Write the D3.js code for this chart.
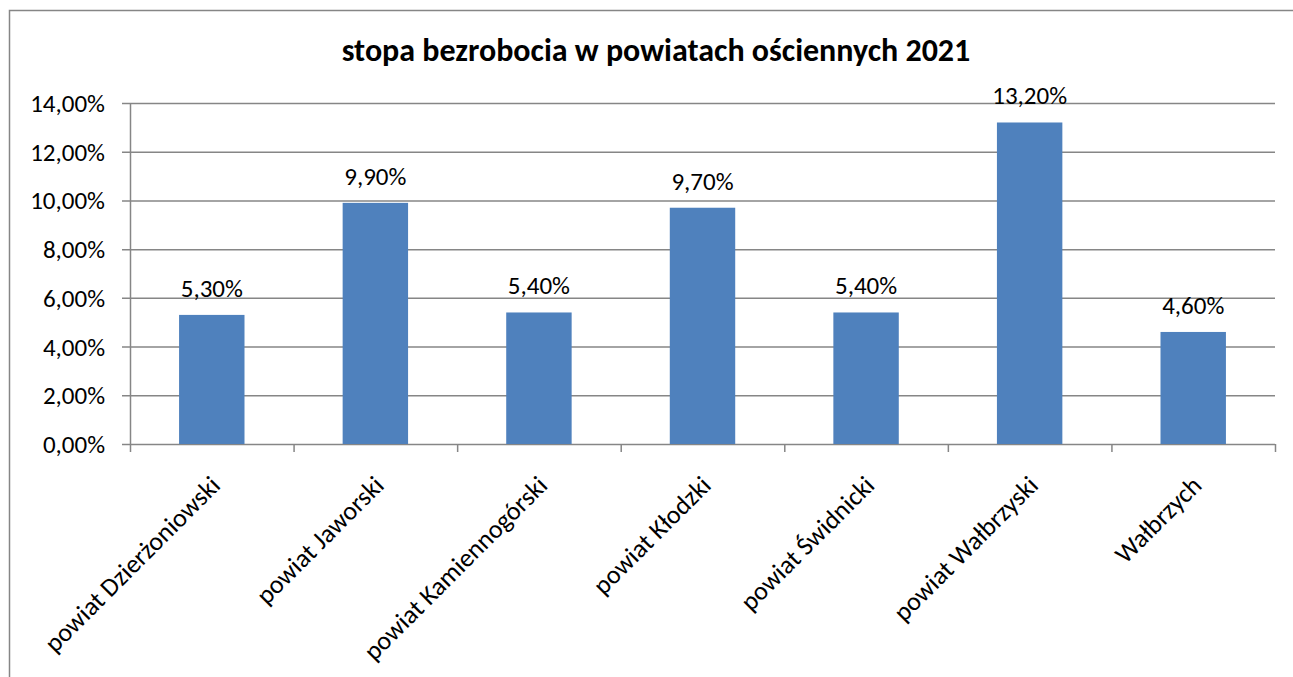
<!DOCTYPE html>
<html>
<head>
<meta charset="utf-8">
<script src="https://cdn.jsdelivr.net/npm/d3@7"></script>
<style>
   body { margin: 0; background: #fff; }
   text { font-family: Carlito, Lato, "Open Sans", sans-serif; fill: #000; }
</style>
</head>
<body>
<svg id="chart" width="1293" height="677"></svg>
<script>
const title = "stopa bezrobocia w powiatach ościennych 2021";
const powiaty = ["powiat Dzierżoniowski", "powiat Jaworski", "powiat Kamiennogórski", "powiat Kłodzki", "powiat Świdnicki", "powiat Wałbrzyski", "Wałbrzych"];
const stopa = [0.053, 0.099, 0.054, 0.097, 0.054, 0.132, 0.046];
const yTicks = [0, 0.02, 0.04, 0.06, 0.08, 0.10, 0.12, 0.14];

const pl = d3.formatLocale({ decimal: ",", thousands: " ", grouping: [3], currency: ["", " zł"] });
const pct = pl.format(".2%");

function wykres() {
   let svg = d3.select("#chart");
   const left = 130, right = 1275, top = 103, bottom = 444;

   // ramka
   svg.append("rect")
      .attr("x", 9.5).attr("y", 10.5)
      .attr("width", 1300).attr("height", 700)
      .attr("fill", "none").attr("stroke", "#868686").attr("stroke-width", 1.5);

   svg.append("text")
      .attr("x", 656).attr("y", 61)
      .attr("text-anchor", "middle")
      .style("font-size", "32px").style("font-weight", "bold")
      .text(title);

   const x = d3.scaleBand().domain(powiaty).range([left, right]).paddingInner(0.6).paddingOuter(0.3);
   const xb = d3.scaleBand().domain(powiaty).range([left, right]);
   const y = d3.scaleLinear().domain([0, 0.14]).range([bottom, top]);

   // siatka
   svg.append("g")
      .selectAll("line").data(yTicks).join("line")
      .attr("x1", left - 8).attr("x2", right)
      .attr("y1", d => y(d) + 0.5).attr("y2", d => y(d) + 0.5)
      .attr("stroke", "#868686").attr("stroke-width", 1.5);

   svg.append("g")
      .selectAll("text").data(yTicks).join("text")
      .attr("x", left - 25).attr("y", d => y(d) + 9)
      .attr("text-anchor", "end")
      .style("font-size", "25px")
      .text(d => pct(d));

   // oś y
   svg.append("line")
      .attr("x1", left + 0.5).attr("x2", left + 0.5)
      .attr("y1", top).attr("y2", bottom + 8)
      .attr("stroke", "#868686").attr("stroke-width", 1.5);

   // znaczniki osi x
   const bounds = powiaty.map(p => xb(p) + xb.bandwidth());
   svg.append("g")
      .selectAll("line").data(bounds).join("line")
      .attr("x1", d => d + 0.5).attr("x2", d => d + 0.5)
      .attr("y1", bottom).attr("y2", bottom + 8)
      .attr("stroke", "#868686").attr("stroke-width", 1.5);

   svg.append("g")
      .selectAll("rect").data(powiaty).join("rect")
      .attr("x", d => x(d))
      .attr("y", (d, i) => y(stopa[i]))
      .attr("width", x.bandwidth())
      .attr("height", (d, i) => bottom - y(stopa[i]))
      .attr("fill", "#4F81BD");

   svg.append("g")
      .selectAll("text").data(powiaty).join("text")
      .attr("x", d => x(d) + x.bandwidth() / 2)
      .attr("y", (d, i) => y(stopa[i]) - 18)
      .attr("text-anchor", "middle")
      .style("font-size", "25px")
      .text((d, i) => pct(stopa[i]));

   svg.append("g")
      .selectAll("text").data(powiaty).join("text")
      .attr("transform", d => `translate(${xb(d) + xb.bandwidth() / 2 + 10},${bottom + 43}) rotate(-45)`)
      .attr("text-anchor", "end")
      .style("font-size", "26px")
      .text(d => d);
}

wykres();
</script>
</body>
</html>
